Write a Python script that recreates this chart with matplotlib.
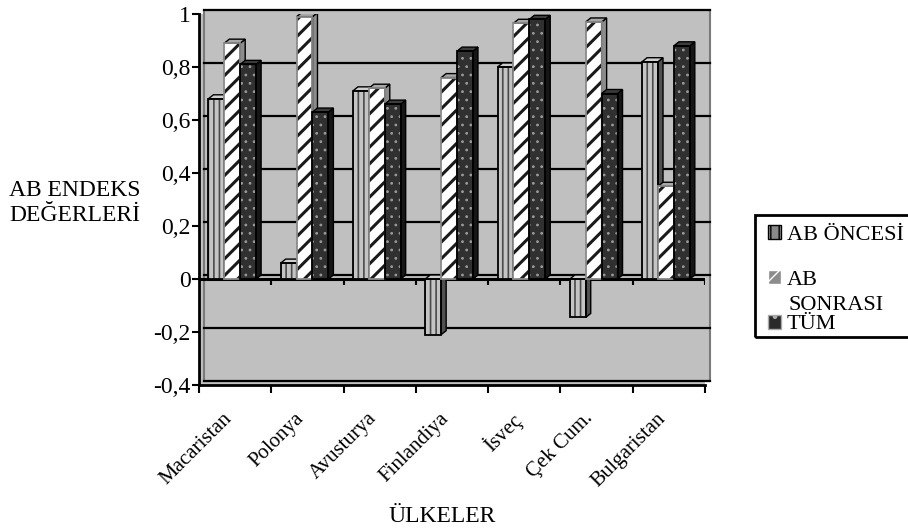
import matplotlib
matplotlib.use('Agg')
import matplotlib.pyplot as plt
from matplotlib.patches import Patch, Polygon, Rectangle
from matplotlib.transforms import ScaledTranslation

ulkeler = ['Macaristan', 'Polonya', 'Avusturya', 'Finlandiya', 'İsveç', 'Çek Cum.', 'Bulgaristan']
ab_oncesi = [0.68, 0.06, 0.71, -0.21, 0.80, -0.145, 0.82]
ab_sonrasi = [0.89, 0.99, 0.72, 0.76, 0.965, 0.97, 0.35]
tum = [0.81, 0.63, 0.66, 0.86, 0.98, 0.70, 0.88]
seri_adlari = ['AB ÖNCESİ', 'AB SONRASI', 'TÜM']
y_ticks = [-0.4, -0.2, 0, 0.2, 0.4, 0.6, 0.8, 1]
y_tick_labels = ['-0,4', '-0,2', '0', '0,2', '0,4', '0,6', '0,8', '1']

plt.rcParams['font.family'] = ['Liberation Serif', 'DejaVu Serif']

W, H, DPI = 908, 531, 100
fig = plt.figure(figsize=(W / DPI, H / DPI), dpi=DPI)
ax = fig.add_axes([199 / W, (H - 385) / H, 506 / W, 371 / H])
ax.set_xlim(-0.5, len(ulkeler) - 0.5)
ax.set_ylim(-0.4, 1.0)
ax.set_facecolor('#c0c0c0')

# derinlik (3B gorunum) piksel olarak
DX, DY = 5, 4
px_x = 506 / len(ulkeler)
px_y = 371 / 1.4
ddx, ddy = DX / px_x, DY / px_y
kaydir = ScaledTranslation(DX / DPI, DY / DPI, fig.dpi_scale_trans)

# arka duvar
ax.add_patch(Rectangle((0, 0), 1, 1, transform=ax.transAxes + kaydir, facecolor='#c0c0c0',
                       edgecolor='#7a7a7a', lw=1.5, clip_on=False, zorder=0))
for v in y_ticks:
    ax.plot([0, 1], [v, v], color='black', lw=1.6, transform=ax.get_yaxis_transform() + kaydir,
            clip_on=False, zorder=1)
ax.axhline(0, color='black', lw=2.2, zorder=2)
sinirlar = [i - 0.5 for i in range(len(ulkeler) + 1)]
ax.vlines(sinirlar, 0, -6 / px_y, color='black', lw=1.5, zorder=2)

stiller = [
    dict(face='#c4c4c4', hatch='|||', hc='#4a4a4a', edge='black', side='#505050', top='#cfcfcf', hlw=1.2),
    dict(face='white', hatch='//', hc='#1a1a1a', edge='#8a8a8a', side='#8c8c8c', top='#a8a8a8', hlw=2.2),
    dict(face='#303030', hatch='..', hc='#9a9a9a', edge='black', side='#161616', top='#3c3c3c', hlw=0.8),
]
genislik = 0.22
for k, (seri, st) in enumerate(zip([ab_oncesi, ab_sonrasi, tum], stiller)):
    z = 3 + k
    xs = [i + (k - 1) * genislik - 0.04 for i in range(len(ulkeler))]
    with plt.rc_context({'hatch.linewidth': st['hlw']}):
        ax.bar(xs, seri, genislik, color=st['face'], hatch=st['hatch'], edgecolor=st['hc'], lw=0, zorder=z)
    ax.bar(xs, seri, genislik, fill=False, edgecolor=st['edge'], lw=1.3, zorder=z + 0.1)
    for x, v in zip(xs, seri):
        x0, x1 = x - genislik / 2, x + genislik / 2
        alt, ust = min(0, v), max(0, v)
        ax.add_patch(Polygon([(x1, alt), (x1, ust), (x1 + ddx, ust + ddy), (x1 + ddx, alt + ddy)],
                             facecolor=st['side'], edgecolor='black', lw=1, zorder=z + 0.05))
        ax.add_patch(Polygon([(x0, ust), (x1, ust), (x1 + ddx, ust + ddy), (x0 + ddx, ust + ddy)],
                             facecolor=st['top'], edgecolor='black', lw=1, zorder=z + 0.05))

for s in ['top', 'right']:
    ax.spines[s].set_visible(False)
for s in ['left', 'bottom']:
    ax.spines[s].set_linewidth(2)
    ax.spines[s].set_zorder(10)

ax.set_yticks(y_ticks)
ax.set_yticklabels(y_tick_labels, fontsize=17)
ax.tick_params(axis='y', direction='out', length=5, width=1.5, pad=1)
ax.set_xticks(sinirlar)
ax.set_xticklabels([])
ax.tick_params(axis='x', which='major', direction='out', length=6, width=1.5)
ax.set_xticks(range(len(ulkeler)), minor=True)
ax.set_xticklabels(ulkeler, minor=True, fontsize=15, rotation=45, ha='right', va='top',
                   rotation_mode='anchor')
ax.tick_params(axis='x', which='minor', length=0, pad=0)
etiket_kay = ScaledTranslation(-13 / DPI, -24 / DPI, fig.dpi_scale_trans)
for lab in ax.get_xticklabels(minor=True):
    lab.set_transform(lab.get_transform() + etiket_kay)

fig.text(75 / W, 1 - 203 / H, 'AB ENDEKS\nDEĞERLERİ', fontsize=17, ha='center', va='center',
         multialignment='center', linespacing=1.3)
fig.text(442 / W, 1 - 516 / H, 'ÜLKELER', fontsize=17, ha='center', va='center')

# lejant
with plt.rc_context({'hatch.linewidth': 2.0}):
    tutamaklar = [Patch(facecolor='#8a8a8a', hatch='||', edgecolor='black'),
                  Patch(facecolor='#8c8c8c', hatch='//', edgecolor='white'),
                  Patch(facecolor='#2a2a2a', hatch='.', edgecolor='#aaaaaa')]
ust_ad, alt_ad = seri_adlari[1].split()
fig.legend(tutamaklar, [seri_adlari[0], ust_ad, seri_adlari[2]], loc='upper left',
           bbox_to_anchor=(768 / W, 1 - 225 / H), frameon=False, fontsize=16, borderpad=0,
           borderaxespad=0, handlelength=0.6, handleheight=0.6, handletextpad=0.25, labelspacing=1.12)
fig.text(788 / W, 1 - 310 / H, alt_ad, fontsize=16, ha='left', va='baseline')
fig.patches.append(Rectangle((755 / W, 1 - 337 / H), 160 / W, 122 / H, transform=fig.transFigure,
                             fill=False, edgecolor='black', lw=2))

fig.savefig('out.png', dpi=DPI)
